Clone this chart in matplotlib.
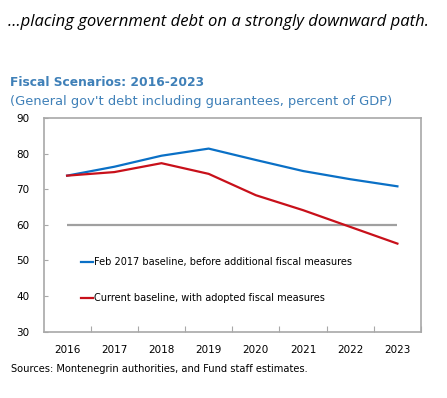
import matplotlib
matplotlib.use("Agg")
import matplotlib.pyplot as plt
import numpy as np

years = ["2016", "2017", "2018", "2019", "2020", "2021", "2022", "2023"]
feb2017_baseline = [73.8, 76.3, 79.4, 81.4, 78.2, 75.1, 72.8, 70.8]
current_baseline = [73.8, 74.8, 77.3, 74.3, 68.3, 64.1, 59.4, 54.7]
threshold = [60] * len(years)
yticks = [30, 40, 50, 60, 70, 80, 90]

title_color = "#3F80B8"
blue = "#0A70C6"
red = "#C8101A"
gray_line = "#A0A0A0"
frame_gray = "#A8A8A8"

fig = plt.figure(figsize=(4.47, 3.98), dpi=100)
W, H = 447, 398
ax = fig.add_axes([43.5 / W, 1 - 331.5 / H, (421 - 43.5) / W, (331.5 - 118) / H])

x = np.arange(len(years))
ax.plot(x, threshold, color=gray_line, lw=1.6, solid_capstyle="butt")
ax.plot(x, feb2017_baseline, color=blue, lw=1.6, label="Feb 2017 baseline, before additional fiscal measures")
ax.plot(x, current_baseline, color=red, lw=1.6, label="Current baseline, with adopted fiscal measures")

ax.set_xlim(-0.5, len(years) - 0.5)
ax.set_ylim(30, 90)
ax.set_yticks(yticks)
ax.set_yticklabels([str(v) for v in yticks])
ax.set_xticks(x + 0.5, minor=False)
ax.set_xticklabels([])
ax.set_xticks(x, minor=True)
ax.set_xticklabels(years, minor=True)
ax.tick_params(axis="x", which="major", direction="in", length=4, color=frame_gray, width=0.8)
ax.tick_params(axis="x", which="minor", length=0, pad=10, labelsize=7.5)
ax.tick_params(axis="y", direction="in", length=3, color=frame_gray, width=0.8, labelsize=7.5, pad=10)
for s in ax.spines.values():
    s.set_color(frame_gray)
    s.set_linewidth(1.2)

leg = ax.legend(loc="upper left", bbox_to_anchor=(0.09, 0.365), frameon=False,
                fontsize=7.0, handlelength=1.2, handletextpad=0.1, labelspacing=2.65,
                borderaxespad=0)

fig.text(8 / W, 1 - 22 / H, "…placing government debt on a strongly downward path.",
         fontsize=12.0, style="italic", family="Open Sans", va="center", ha="left")
fig.text(10 / W, 1 - 82 / H, "Fiscal Scenarios: 2016-2023", fontsize=8.8,
         fontweight="bold", color=title_color, va="center", ha="left")
fig.text(10 / W, 1 - 101 / H, "(General gov't debt including guarantees, percent of GDP)",
         fontsize=9.4, color=title_color, va="center", ha="left")
fig.text(11 / W, 1 - 369 / H, "Sources: Montenegrin authorities, and Fund staff estimates.",
         fontsize=7.1, va="center", ha="left")

fig.savefig("out.png", dpi=100)
